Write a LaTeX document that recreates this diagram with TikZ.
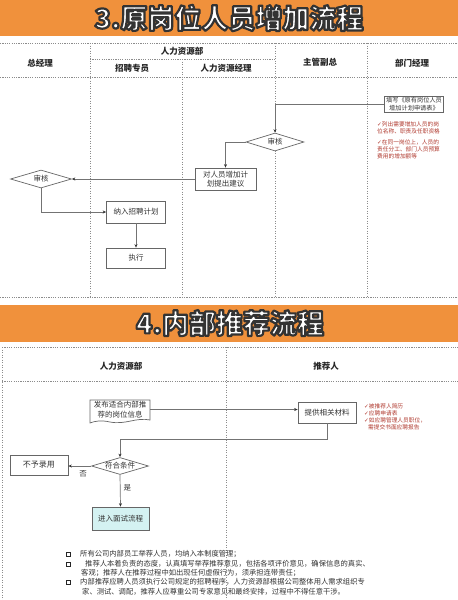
\documentclass[tikz,border=0pt]{standalone}
\usepackage{fontspec}
\setmainfont{Noto Sans CJK SC}
\newfontfamily\symfont{DejaVu Sans}
\usetikzlibrary{shapes.geometric,arrows.meta}
\definecolor{bannerc}{HTML}{F0913C}
\definecolor{notered}{HTML}{B0392E}
\definecolor{ivfill}{HTML}{D4F2F2}
\newcommand\outl[1]{\special{pdf:literal direct 2 Tr 2.2 w 1 j 0.2 0.2 0.2 RG}#1\special{pdf:literal direct 0 Tr 0 w}}
\newcommand\ck{{\symfont\char"2713}}
\begin{document}
\begin{tikzpicture}[x=1pt,y=-1pt,
  lane/.style={draw=black!45, line width=0.6pt, dash pattern=on 1.2pt off 1.1pt},
  vlane/.style={draw=black!45, line width=0.7pt, dash pattern=on 0.9pt off 1.6pt},
  box/.style={draw=black!60, line width=0.7pt, fill=white, inner sep=0pt, align=center, font=\fontsize{7.5}{9.5}\selectfont, text=black!80},
  dia/.style={diamond, aspect=3.2, draw=black!60, line width=0.7pt, fill=white, inner sep=0pt, font=\fontsize{7.5}{9}\selectfont, text=black!80},
  conn/.style={draw=black!55, line width=0.7pt},
  arr/.style={conn, -{Stealth[length=3.5pt,width=3pt,black!80]}},
  hdr/.style={font=\fontsize{8.5}{10}\selectfont\bfseries, text=black!85, inner sep=0pt},
  note/.style={font=\fontsize{5.7}{7}\selectfont, text=notered, anchor=north west, inner sep=0pt, align=left},
  bul/.style={font=\fontsize{7.3}{9}\selectfont, text=black!80, anchor=west, inner sep=0pt},
  bsq/.style={draw=black!85, line width=0.9pt, minimum size=4pt, inner sep=0pt},
  lbl/.style={font=\fontsize{7.5}{9}\selectfont, text=black!80, inner sep=0pt},
  title/.style={font=\fontsize{27}{30}\selectfont\bfseries, text=white, inner sep=0pt}]
\useasboundingbox (0,0) rectangle (458,600);
\fill[white] (0,0) rectangle (458,600);

% ---------- Section 3 ----------
\fill[bannerc] (0,0) rectangle (458,36);
\node[title] (t3) at (229,18) {\outl{3.原岗位人员增加流程}};

\draw[lane] (0,43) -- (458,43);
\draw[lane] (90,59) -- (275,59);
\draw[lane] (0,77) -- (458,77);
\draw[lane] (0,297) -- (458,297);
\draw[vlane] (90,43) -- (90,297);
\draw[vlane] (182,59) -- (182,297);
\draw[vlane] (275,43) -- (275,297);
\draw[vlane] (367,43) -- (367,297);

\node[hdr] (h1) at (40,63) {总经理};
\node[hdr] (h2) at (182,51) {人力资源部};
\node[hdr] (h3) at (132,68) {招聘专员};
\node[hdr] (h4) at (226,68) {人力资源经理};
\node[hdr] (h5) at (320,62) {主管副总};
\node[hdr] (h6) at (412,63) {部门经理};

\node[box, minimum width=59pt, minimum height=16pt, font=\fontsize{6.2}{7.4}\selectfont] (fill) at (414,104) {填写《原有岗位人员\\增加计划申请表》};
\node[dia, minimum width=58pt, minimum height=18pt] (d1) at (275,142) {审核};
\node[box, minimum width=61pt, minimum height=22pt] (hrbox) at (225.5,179) {对人员增加计\\划提出建议};
\node[dia, minimum width=61pt, minimum height=18pt] (d2) at (41,179) {审核};
\node[box, minimum width=59pt, minimum height=22pt] (plan) at (136,212) {纳入招聘计划};
\node[box, minimum width=59pt, minimum height=20pt] (exec) at (136,258) {执行};

\node[note] (n1) at (377,121) {\ck 列出需要增加人员的岗\\位名称、职责及任职资格};
\node[note] (n2) at (377,139) {\ck 在同一岗位上，人员的\\责任分工、部门人员预算\\费用的增加额等};

\draw[arr] (fill.west) -| (d1.north);
\draw[arr] (d1.west) -| (hrbox.north);
\draw[arr] (hrbox.west) -- (d2.east);
\draw[arr] (d2.south) |- (plan.west);
\draw[arr] (plan.south) -- (exec.north);

% ---------- Section 4 ----------
\fill[bannerc] (0,305) rectangle (458,342);
\node[title] (t4) at (230,323) {\outl{4.内部推荐流程}};

\draw[lane] (2,347) -- (458,347);
\draw[lane] (2,381) -- (458,381);
\draw[vlane] (2,347) -- (2,600);
\draw[vlane] (226,347) -- (226,600);

\node[hdr] (g1) at (121,366) {人力资源部};
\node[hdr] (g2) at (326,366) {推荐人};

\draw[draw=black!60, line width=0.7pt, fill=white] (90,400) -- (150,400) -- (150,420)
  .. controls (136,417) and (126,425) .. (110,422)
  .. controls (101,420) and (95,421) .. (90,423) -- cycle;
\node[box, draw=none, fill=none, minimum width=60pt, minimum height=17pt] (doc) at (120,409.5) {发布适合内部推\\荐的岗位信息};
\node[box, minimum width=58pt, minimum height=21pt] (mat) at (327,412.5) {提供相关材料};
\node[note] (n3) at (364,403) {\ck 被推荐人简历\\\ck 应聘申请表\\\ck 如应聘管理人员职位，\\\hspace*{4pt}需提交书面应聘报告};

\node[dia, minimum width=57pt, minimum height=17pt] (cond) at (120,466) {符合条件};
\node[box, minimum width=58pt, minimum height=20pt, font=\fontsize{8}{9.5}\selectfont] (rej) at (39,465) {不予录用};
\node[box, fill=ivfill, minimum width=57pt, minimum height=23pt] (iv) at (120.5,518.5) {进入面试流程};
\coordinate (k) at (120,439);

\draw[arr] (doc.east) -- (doc.east -| mat.west);
\draw[arr] (mat.south) |- (k) -- (cond.north);
\draw[arr] (cond.west) -- node[lbl, pos=0.35, below=4pt] (no) {否} (rej.east |- cond.west);
\draw[arr] (cond.south) -- node[lbl, pos=0.4, right=3pt] (yes) {是} (iv.north);

\node[bsq] (b1) at (68,554) {};
\node[bsq] (b2) at (68,564) {};
\node[bsq] (b3) at (68,582) {};
\node[bul] (l1) at (80,554) {所有公司内部员工举荐人员，均纳入本制度管理；};
\node[bul] (l2) at (85,564) {推荐人本着负责的态度，认真填写举荐推荐意见，包括各项评价意见，确保信息的真实、};
\node[bul] (l3) at (81,573) {客观；推荐人在推荐过程中如出现任何虚假行为，须承担连带责任；};
\node[bul] (l4) at (80,582) {内部推荐应聘人员须执行公司规定的招聘程序，人力资源部根据公司整体用人需求组织专};
\node[bul] (l5) at (82,592) {家、测试、调配，推荐人应尊重公司专家意见和最终安排，过程中不得任意干涉。};
\end{tikzpicture}
\end{document}
